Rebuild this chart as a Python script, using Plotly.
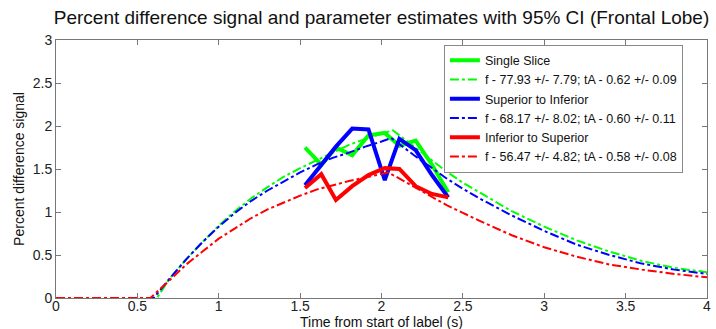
import plotly.graph_objects as go

# ---- measured signal (thick solid lines) ----
meas_t = [1.53, 1.63, 1.72, 1.82, 1.92, 2.02, 2.11, 2.21, 2.31, 2.41]
single_slice = [1.75, 1.55, 1.75, 1.66, 1.89, 1.92, 1.77, 1.83, 1.55, 1.23]
sup_to_inf = [1.31, 1.55, 1.76, 1.97, 1.96, 1.37, 1.85, 1.72, 1.43, 1.17]
inf_to_sup = [1.28, 1.44, 1.14, 1.30, 1.43, 1.51, 1.50, 1.30, 1.21, 1.17]

# ---- fitted curves (dash-dot) ----
fit_green_t = [0, 0.62, 0.7, 0.8, 0.9, 1.0, 1.1, 1.2, 1.3, 1.4, 1.5, 1.6, 1.7, 1.8, 1.9, 2.0, 2.07,
               2.2, 2.3, 2.4, 2.5, 2.6, 2.8, 3.0, 3.2, 3.4, 3.6, 3.8, 4.0]
fit_green_v = [0, 0, 0.23, 0.45, 0.65, 0.84, 1.01, 1.16, 1.29, 1.41, 1.51, 1.60, 1.69, 1.78, 1.85, 1.91, 1.95,
               1.76, 1.61, 1.47, 1.34, 1.23, 1.01, 0.83, 0.67, 0.54, 0.43, 0.35, 0.30]

fit_blue_t = [0, 0.60, 0.7, 0.8, 0.9, 1.0, 1.1, 1.2, 1.3, 1.4, 1.5, 1.6, 1.7, 1.8, 1.9, 2.0, 2.06,
              2.2, 2.3, 2.4, 2.5, 2.6, 2.8, 3.0, 3.2, 3.4, 3.6, 3.8, 4.0]
fit_blue_v = [0, 0, 0.23, 0.45, 0.65, 0.83, 0.99, 1.13, 1.25, 1.36, 1.46, 1.55, 1.63, 1.69, 1.76, 1.82, 1.86,
              1.66, 1.52, 1.39, 1.27, 1.16, 0.96, 0.78, 0.62, 0.50, 0.40, 0.33, 0.28]

fit_red_t = [0, 0.58, 0.7, 0.8, 0.9, 1.0, 1.1, 1.2, 1.3, 1.4, 1.5, 1.6, 1.7, 1.8, 1.9, 2.0, 2.04,
             2.1, 2.2, 2.3, 2.4, 2.5, 2.6, 2.8, 3.0, 3.2, 3.4, 3.6, 3.8, 4.0]
fit_red_v = [0, 0, 0.21, 0.39, 0.54, 0.69, 0.81, 0.93, 1.03, 1.11, 1.19, 1.26, 1.31, 1.36, 1.40, 1.44, 1.46,
             1.40, 1.29, 1.18, 1.08, 0.99, 0.90, 0.73, 0.59, 0.48, 0.39, 0.33, 0.28, 0.24]

labels = ["Single Slice", "f - 77.93 +/- 7.79; tA - 0.62 +/- 0.09",
          "Superior to Inferior", "f - 68.17 +/- 8.02; tA - 0.60 +/- 0.11",
          "Inferior to Superior", "f - 56.47 +/- 4.82; tA - 0.58 +/- 0.08"]

x_ticks = [0, 0.5, 1, 1.5, 2, 2.5, 3, 3.5, 4]
x_tick_text = ["0", "0.5", "1", "1.5", "2", "2.5", "3", "3.5", "4"]
y_ticks = [0, 0.5, 1, 1.5, 2, 2.5, 3]
y_tick_text = ["0", "0.5", "1", "1.5", "2", "2.5", "3"]

GREEN, BLUE, RED = "#00ff00", "#0000ff", "#ff0000"

fig = go.Figure()
series = [
    (meas_t, single_slice, fit_green_t, fit_green_v, GREEN),
    (meas_t, sup_to_inf, fit_blue_t, fit_blue_v, BLUE),
    (meas_t, inf_to_sup, fit_red_t, fit_red_v, RED),
]
for i, (mt, mv, ft, fv, col) in enumerate(series):
    fig.add_trace(go.Scatter(x=mt, y=mv, mode="lines", name=labels[2 * i],
                             line=dict(color=col, width=4)))
    fig.add_trace(go.Scatter(x=ft, y=fv, mode="lines", name=labels[2 * i + 1],
                             line=dict(color=col, width=2, dash="dashdot")))

axis_common = dict(showgrid=False, zeroline=False, showline=True, mirror="ticks",
                   linecolor="#777777", linewidth=1, ticks="inside", ticklen=5,
                   tickcolor="#777777", tickfont=dict(size=14, color="#222222"),
                   automargin=False)

fig.update_layout(
    width=716, height=329,
    margin=dict(l=56, r=9, t=40, b=31),
    paper_bgcolor="white", plot_bgcolor="white",
    font=dict(family="Liberation Sans, Arial, sans-serif", color="#111111"),
    title=dict(text="Percent difference signal and parameter estimates with 95% CI (Frontal Lobe)",
               x=0.5, xref="paper", xanchor="center", y=1 - 17 / 329, yref="container", yanchor="middle",
               font=dict(size=19, color="#111111")),
    xaxis=dict(range=[0, 4], tickvals=x_ticks, ticktext=x_tick_text, ticklabelstandoff=-5,
               **axis_common),
    yaxis=dict(range=[0, 3], tickvals=y_ticks, ticktext=y_tick_text,
               title=dict(text="Percent difference signal", font=dict(size=14, color="#111111"), standoff=4),
               **axis_common),
    legend=dict(x=0.963, xanchor="right", y=0.982, yanchor="top",
                bgcolor="white", bordercolor="#888888", borderwidth=1,
                font=dict(size=12.5, color="#111111"), tracegroupgap=0,
                itemwidth=30),
    showlegend=True,
    annotations=[dict(text="Time from start of label (s)", xref="paper", yref="paper",
                      x=0.5, y=-(322 - 298) / 258, xanchor="center", yanchor="middle",
                      showarrow=False, font=dict(size=14, color="#111111"))],
)

fig.write_html("out.html", config={"displayModeBar": False},
               post_script="document.body.style.margin='0';document.body.style.overflow='hidden';")
